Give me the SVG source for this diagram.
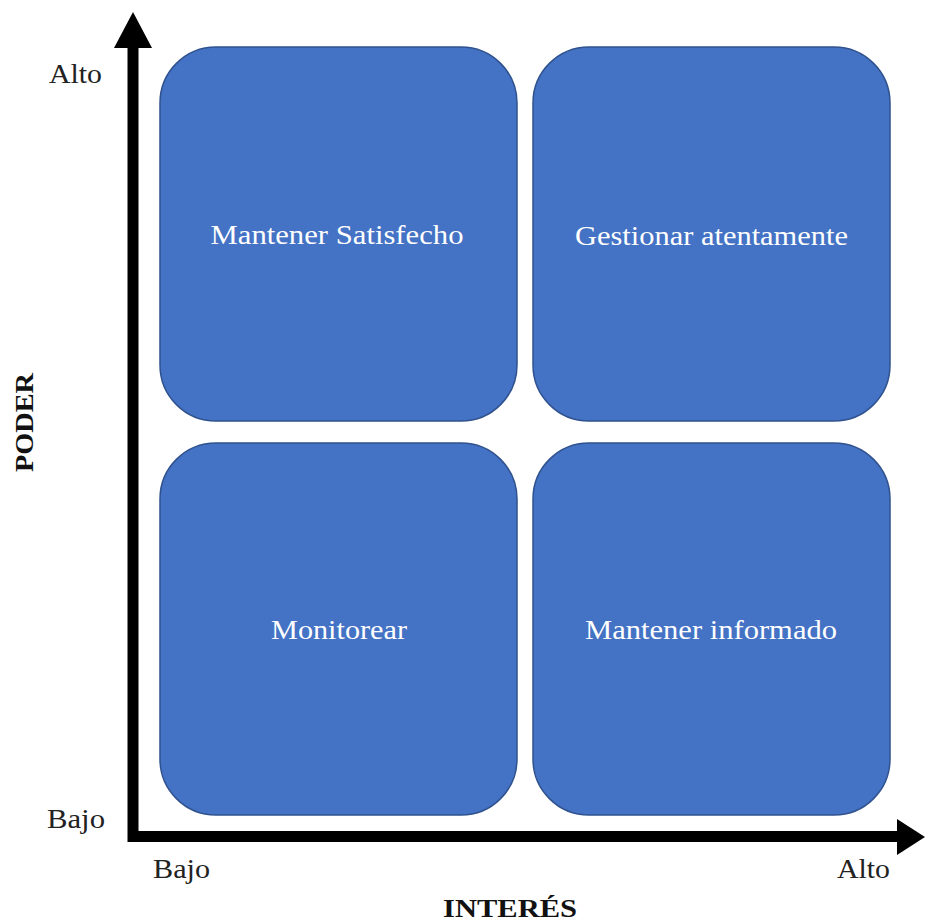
<svg xmlns="http://www.w3.org/2000/svg" width="927" height="923" viewBox="0 0 927 923">
<defs>
<style>
.box{fill:#4472C4;stroke:#2F528F;stroke-width:1.5}
.bt{font-family:"Liberation Serif","Times New Roman",serif;font-size:27px;fill:#ffffff;text-anchor:middle}
.lbl{font-family:"Liberation Serif","Times New Roman",serif;font-size:27px;fill:#222222}
.ttl{font-family:"Liberation Serif","Times New Roman",serif;font-size:26px;font-weight:bold;fill:#111111}
.axis{fill:none;stroke:#000000;stroke-width:11;stroke-linejoin:miter}
</style>
</defs>
<rect width="927" height="923" fill="#ffffff"/>
<g id="connectors">
<path class="axis" d="M133,47 V836.5 H900"/>
<polygon points="133,12 152,48 114,48" fill="#000"/>
<polygon points="897,819 925,837 897,855" fill="#000"/>
</g>
<g id="node-mantener-satisfecho">
<rect class="box" x="160" y="47" width="357" height="374" rx="56" ry="56"/>
<text class="bt" x="337" y="244" textLength="253" lengthAdjust="spacingAndGlyphs">Mantener Satisfecho</text>
</g>
<g id="node-gestionar-atentamente">
<rect class="box" x="533" y="47" width="357" height="374" rx="56" ry="56"/>
<text class="bt" x="711.5" y="245" textLength="273" lengthAdjust="spacingAndGlyphs">Gestionar atentamente</text>
</g>
<g id="node-monitorear">
<rect class="box" x="160" y="443" width="357" height="372" rx="56" ry="56"/>
<text class="bt" x="339" y="639" textLength="136" lengthAdjust="spacingAndGlyphs">Monitorear</text>
</g>
<g id="node-mantener-informado">
<rect class="box" x="533" y="443" width="357" height="372" rx="56" ry="56"/>
<text class="bt" x="711" y="639" textLength="252" lengthAdjust="spacingAndGlyphs">Mantener informado</text>
</g>
<g id="labels">
<text class="lbl" x="49" y="83" textLength="53" lengthAdjust="spacingAndGlyphs">Alto</text>
<text class="lbl" x="47" y="828" textLength="58" lengthAdjust="spacingAndGlyphs">Bajo</text>
<text class="lbl" x="153" y="878" textLength="57" lengthAdjust="spacingAndGlyphs">Bajo</text>
<text class="lbl" x="837" y="878" textLength="53" lengthAdjust="spacingAndGlyphs">Alto</text>
<text class="ttl" x="443" y="917" textLength="134" lengthAdjust="spacingAndGlyphs">INTERÉS</text>
<text class="ttl" transform="translate(33,472) rotate(-90)" x="0" y="0" textLength="99" lengthAdjust="spacingAndGlyphs">PODER</text>
</g>
</svg>
